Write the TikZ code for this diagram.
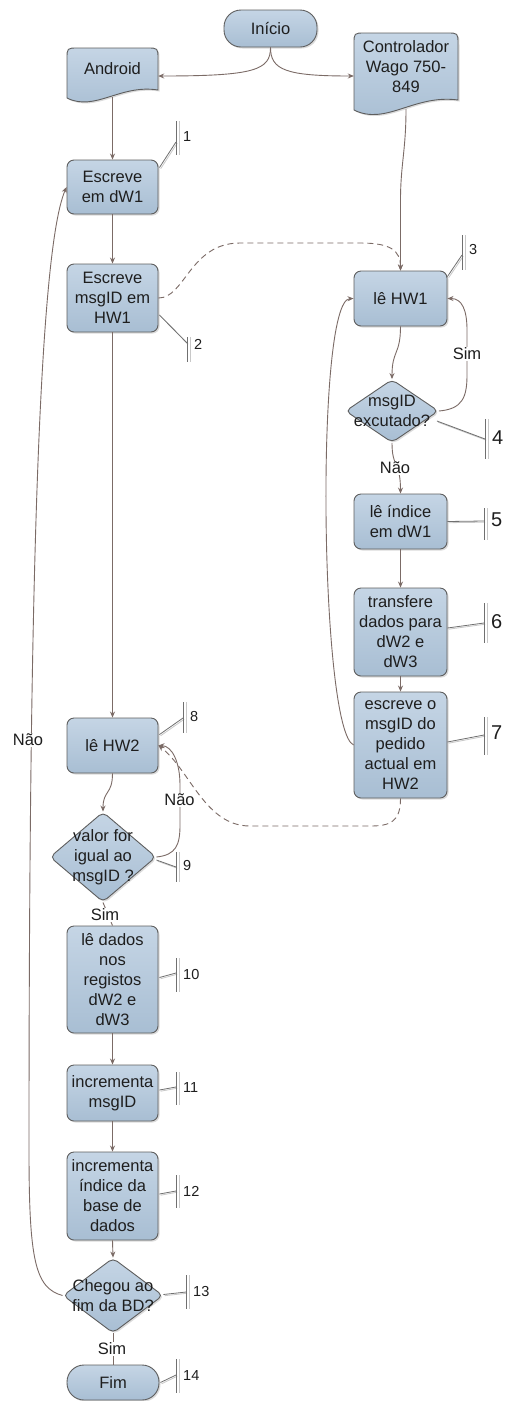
\documentclass[tikz,border=0pt]{standalone}
\usepackage{fontspec}
\setmainfont{Liberation Sans}
\usetikzlibrary{arrows.meta,shapes.geometric,calc,shadows}

\definecolor{boxtop}{HTML}{C5D5E5}
\definecolor{boxbot}{HTML}{A8BED3}
\definecolor{boxline}{HTML}{5E5E5E}
\definecolor{flow}{HTML}{7B6B66}
\definecolor{inkc}{HTML}{1E1E1E}
\definecolor{barc}{HTML}{707070}
\definecolor{barl}{HTML}{C8C8C8}

\pgfdeclarelayer{back}
\pgfsetlayers{back,main}

\tikzset{
  boxbase/.style={draw=boxline, line width=0.9pt, top color=boxtop, bottom color=boxbot,
    drop shadow={shadow xshift=1.5pt, shadow yshift=-1.5pt, opacity=0.35, fill=black!40}},
  txt/.style={text=inkc, font=\fontsize{16.5}{20}\selectfont, align=center},
  proc/.style={boxbase, txt, rectangle, rounded corners=7pt, inner sep=0pt},
  term/.style={boxbase, txt, rectangle, rounded corners=17pt, inner sep=0pt},
  decision/.style={boxbase, diamond, rounded corners=5pt, inner sep=0pt},
  doclabel/.style={txt, rectangle, inner sep=0pt},
  dlabel/.style={txt, inner sep=0pt},
  flowline/.style={draw=flow, line width=0.9pt, -{Stealth[length=6pt,width=5pt]}},
  plainflow/.style={draw=flow, line width=0.9pt},
  dashflow/.style={flowline, dash pattern=on 6pt off 4pt},
  lbl/.style={txt, fill=white, inner sep=1pt},
  calloutln/.style={draw=barc, line width=0.8pt,
    preaction={draw=barl, line width=0.8pt, transform canvas={xshift=1.2pt,yshift=-1.2pt}}},
  bardark/.style={draw=barc, line width=0.8pt},
  barlight/.style={draw=barl, line width=0.8pt},
  numsmall/.style={anchor=west, inner sep=0pt, text=inkc, font=\fontsize{14.5}{17}\selectfont},
  numbig/.style={anchor=west, inner sep=0pt, text=inkc, font=\fontsize{20}{24}\selectfont},
}

% bar of a numbered callout: x, top y, bottom y, number, number y, number style
\newcommand\notchmark[6]{%
  \draw[bardark] (#1,#2) -- (#1,#3);
  \draw[barlight] ({#1+3},#2) -- ({#1+3},#3);
  \node[#6] (num#4) at ({#1+7},#5) {#4};
}

\begin{document}
\begin{tikzpicture}[x=1pt,y=-1pt]
\useasboundingbox (0,0) rectangle (507,1401);

% ---- nodes ----
\node[term, minimum width=93pt, minimum height=37pt] (inicio) at (270.5,28.5) {Início};
\node[doclabel, minimum width=91pt, minimum height=42pt] (android) at (112.5,69) {Android};
\node[doclabel, minimum width=104pt, minimum height=67pt] (ctrl) at (406,66.5) {Controlador\\Wago 750-\\849};

\node[proc, minimum width=91pt, minimum height=54pt] (dw1) at (112.5,187) {Escreve\\em dW1};
\node[proc, minimum width=91pt, minimum height=68pt] (msgid) at (112.5,298) {Escreve\\msgID em\\HW1};

\node[proc, minimum width=93pt, minimum height=55pt] (lehw1) at (400.5,298.5) {lê HW1};
\node[decision, minimum width=93pt, minimum height=63pt,
      label={[dlabel]center:msgID\\excutado?}] (exec) at (392,411) {};
\node[proc, minimum width=93pt, minimum height=55pt] (indice) at (400.5,521.5) {lê índice\\em dW1};
\node[proc, minimum width=93pt, minimum height=88pt] (transf) at (400.5,632) {transfere\\dados para\\dW2 e\\dW3};
\node[proc, minimum width=93pt, minimum height=106pt] (escrhw2) at (400.5,745) {escreve o\\msgID do\\pedido\\actual em\\HW2};

\node[proc, minimum width=91pt, minimum height=55pt] (lehw2) at (112.5,745.5) {lê HW2};
\node[decision, minimum width=106pt, minimum height=90pt,
      label={[dlabel]center:valor for\\igual ao\\msgID ?}] (valor) at (103,857) {};
\node[proc, minimum width=91pt, minimum height=107pt] (ledados) at (112.5,979.5) {lê dados\\nos\\registos\\dW2 e\\dW3};
\node[proc, minimum width=91pt, minimum height=56pt] (incmsg) at (112.5,1093) {incrementa\\msgID};
\node[proc, minimum width=91pt, minimum height=88pt] (incind) at (112.5,1196) {incrementa\\índice da\\base de\\dados};
\node[decision, minimum width=100pt, minimum height=75pt,
      label={[dlabel]center:Chegou ao\\fim da BD?}] (chegou) at (113,1295.5) {};
\node[term, minimum width=92pt, minimum height=35pt] (fim) at (113,1382.5) {Fim};

% ---- document shapes behind the two source labels ----
\begin{pgfonlayer}{back}
  \fill[white] (0,0) rectangle (507,1401);
  \path[boxbase] (67,98) -- (67,59) .. controls (67,48) .. (78,48) -- (147,48)
    .. controls (158,48) .. (158,59) -- (158,90)
    .. controls (120,84) and (95,112) .. (67,98) -- cycle;
  \path[boxbase] (354,110) -- (354,44) .. controls (354,33) .. (365,33) -- (447,33)
    .. controls (458,33) .. (458,44) -- (458,100)
    .. controls (414,94) and (386,126) .. (354,110) -- cycle;
\end{pgfonlayer}

% ---- connectors ----
\draw[flowline] (inicio.south) .. controls (270.5,70) and (255,76) .. ($(android.east)+(0,7)$);
\draw[flowline] (inicio.south) .. controls (270.5,70) and (286,76) .. ($(ctrl.west)+(0,9.5)$);
\draw[flowline] ($(android.south)+(0,7)$) -- (dw1.north);
\draw[flowline] (dw1.south) -- (msgid.north);
\draw[flowline] (msgid.south) -- (lehw2.north);
\draw[flowline] ($(ctrl.south)+(0,9)$) .. controls (406,150) and (400.5,165) .. (400.5,200) -- (lehw1.north);
\draw[dashflow] (msgid.east) .. controls (185,298) and (190,243) .. (240,243) -- (360,243)
  .. controls (390,243) and (400.5,250) .. (lehw1.north);
\draw[flowline] (lehw1.south) .. controls (400.5,355) and (392,350) .. (exec.north);
\draw[flowline] (exec.east) .. controls (462,409) and (467,398) .. (467,375) -- (467,330)
  .. controls (467,310) and (462,298.5) .. (lehw1.east);
\draw[flowline] (exec.south) .. controls (392,468) and (400.5,462) .. (indice.north);
\draw[flowline] (indice.south) -- (transf.north);
\draw[flowline] (transf.south) -- (escrhw2.north);
\draw[flowline] (escrhw2.west) .. controls (320,730) and (315,300) .. (lehw1.west);
\draw[dashflow] (escrhw2.south) .. controls (400.5,822) and (390,826) .. (370,826) -- (250,826)
  .. controls (205,826) and (190,770) .. (lehw2.east);
\draw[flowline] (lehw2.south) .. controls (112.5,795) and (103,790) .. (valor.north);
\draw[flowline] (valor.east) .. controls (176,855) and (180,845) .. (180,825) -- (180,785)
  .. controls (180,762) and (172,746) .. (lehw2.east);
\draw[plainflow] (valor.south) -- (ledados.north);
\draw[flowline] (ledados.south) -- (incmsg.north);
\draw[flowline] (incmsg.south) -- (incind.north);
\draw[flowline] (incind.south) -- (chegou.north);
\draw[plainflow] (chegou.south) -- (fim.north);
\draw[flowline] (chegou.west) .. controls (35,1288) and (29,1260) .. (29,1150)
  .. controls (29,700) and (35,260) .. (dw1.west);

% ---- branch labels ----
\node[lbl] (simA) at (467,354) {Sim};
\node[lbl] (naoA) at (395,468) {Não};
\node[lbl] (naoB) at (179.5,800) {Não};
\node[lbl] (simB) at (105,915) {Sim};
\node[lbl] (simC) at (112,1349) {Sim};
\node[lbl] (naoC) at (28,740) {Não};

% ---- numbered callouts ----
\coordinate (c1) at (176,142);
\coordinate (c2) at (187,343);
\coordinate (c3) at (462,255);
\coordinate (c4) at (485,439);
\coordinate (c5) at (484,521);
\coordinate (c6) at (484,623);
\coordinate (c7) at (484,735);
\coordinate (c8) at (183,718);
\coordinate (c9) at (176,867);
\coordinate (c10) at (176,973);
\coordinate (c11) at (176,1087);
\coordinate (c12) at (176,1191);
\coordinate (c13) at (186,1292);
\coordinate (c14) at (176,1375);

\draw[calloutln] ($(dw1.north east)+(1,8)$) -- (c1);
\draw[calloutln] ($(msgid.east)+(1,17)$) -- (c2);
\draw[calloutln] ($(lehw1.north east)+(0,6)$) -- (c3);
\draw[calloutln] ($(exec.east)+(-2,10)$) -- (c4);
\draw[calloutln] (indice.east) -- (c5);
\draw[calloutln] ($(transf.east)+(0,-4)$) -- (c6);
\draw[calloutln] ($(escrhw2.east)+(0,-3)$) -- (c7);
\draw[calloutln] ($(lehw2.north east)+(1,17)$) -- (c8);
\draw[calloutln] ($(valor.east)+(0,3)$) -- (c9);
\draw[calloutln] ($(ledados.east)+(1,-2)$) -- (c10);
\draw[calloutln] ($(incmsg.east)+(1,-3)$) -- (c11);
\draw[calloutln] ($(incind.east)+(1,-2)$) -- (c12);
\draw[calloutln] ($(chegou.east)+(0,-1)$) -- (c13);
\draw[calloutln] ($(fim.east)+(1,0)$) -- (c14);

\notchmark{176}{121}{155}{1}{137}{numsmall}
\notchmark{187}{337}{362}{2}{344}{numsmall}
\notchmark{462}{235}{270}{3}{250}{numsmall}
\notchmark{485}{419}{459}{4}{438}{numbig}
\notchmark{484}{508}{540}{5}{520}{numbig}
\notchmark{484}{603}{643}{6}{622}{numbig}
\notchmark{484}{717}{755}{7}{733}{numbig}
\notchmark{183}{702}{733}{8}{716}{numsmall}
\notchmark{176}{852}{882}{9}{865}{numsmall}
\notchmark{176}{958}{992}{10}{974}{numsmall}
\notchmark{176}{1072}{1105}{11}{1087}{numsmall}
\notchmark{176}{1175}{1208}{12}{1191}{numsmall}
\notchmark{186}{1275}{1309}{13}{1291}{numsmall}
\notchmark{176}{1359}{1393}{14}{1375}{numsmall}

\end{tikzpicture}
\end{document}
